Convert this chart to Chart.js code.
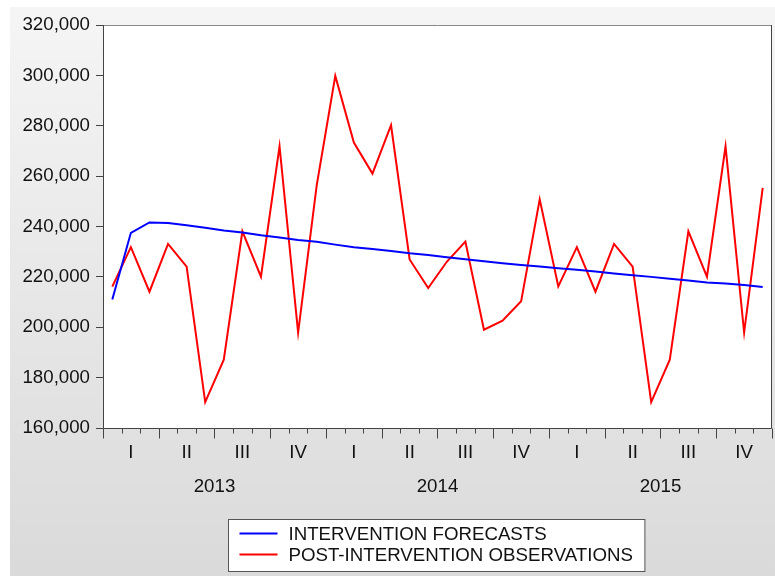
<!DOCTYPE html>
<html>
<head>
<meta charset="utf-8">
<script src="https://cdn.jsdelivr.net/npm/chart.js@4/dist/chart.umd.min.js"></script>
<style>
  html, body { margin: 0; padding: 0; background: #ffffff; }
  #wrap { width: 775px; height: 576px; }
</style>
</head>
<body>
<div id="wrap"><canvas id="c" width="775" height="576"></canvas></div>
<script>
// ---- data ----
const years = ['2013', '2014', '2015'];
const quarters = ['I', 'II', 'III', 'IV'];
const months = [];
years.forEach(y => { for (let m = 1; m <= 12; m++) months.push(y + 'M' + String(m).padStart(2, '0')); });

const forecasts = [
  211000, 237500, 241600, 241400, 240500, 239500, 238400, 237600, 236500, 235600, 234600, 233900,
  232800, 231800, 231100, 230300, 229400, 228700, 227800, 227000, 226200, 225400, 224700, 224100,
  223400, 222800, 222100, 221300, 220600, 220000, 219300, 218600, 217800, 217400, 216800, 216000
];
const observations = [
  216100, 231800, 214100, 233100, 224100, 170300, 187100, 238100, 220100, 271800, 197900, 256300,
  299800, 273300, 261000, 280200, 226900, 215600, 226000, 234000, 199000, 202600, 210300, 250800,
  216200, 231800, 214100, 233100, 224100, 170300, 187100, 238100, 220100, 271800, 197900, 255300
];
const yTicks = [160000, 180000, 200000, 220000, 240000, 260000, 280000, 300000, 320000];
const seriesLabels = ['INTERVENTION FORECASTS', 'POST-INTERVENTION OBSERVATIONS'];
const seriesColors = ['#0000ff', '#ff0000'];

const FONT = "'Liberation Sans', Arial, sans-serif";
const FS = 18.7;

// background plugin
const bgPlugin = {
  id: 'bg',
  beforeDraw(chart) {
    const ctx = chart.ctx;
    ctx.save();
    ctx.fillStyle = '#ffffff';
    ctx.fillRect(0, 0, chart.width, chart.height);
    const g = ctx.createLinearGradient(0, 7, 0, chart.height);
    g.addColorStop(0, '#f5f5f5');
    g.addColorStop(1, '#dadada');
    ctx.fillStyle = g;
    ctx.fillRect(10, 7, chart.width - 10, chart.height - 7);
    const a = chart.chartArea;
    ctx.fillStyle = '#ffffff';
    ctx.fillRect(a.left, a.top, a.right - a.left, a.bottom - a.top);
    ctx.restore();
  },
  afterDraw(chart) {
    const ctx = chart.ctx;
    const a = chart.chartArea;
    const xs = chart.scales.x;
    ctx.save();
    // frame
    ctx.lineWidth = 1;
    ctx.strokeStyle = '#888888';
    ctx.beginPath();
    ctx.moveTo(a.left, a.top + 0.5); ctx.lineTo(a.right, a.top + 0.5);
    ctx.stroke();
    ctx.strokeStyle = '#444444';
    ctx.beginPath();
    ctx.moveTo(Math.round(a.left) + 0.5, a.top);
    ctx.lineTo(Math.round(a.left) + 0.5, Math.round(a.bottom) + 0.5);
    ctx.lineTo(Math.round(a.right) - 0.5, Math.round(a.bottom) + 0.5);
    ctx.lineTo(Math.round(a.right) - 0.5, a.top);
    ctx.stroke();
    // x tick marks at month boundaries, longer at quarter boundaries
    const step = xs.getPixelForValue(1) - xs.getPixelForValue(0);
    const x0 = xs.getPixelForValue(0) - step / 2;
    const yb = Math.round(a.bottom) + 0.5;
    ctx.beginPath();
    for (let i = 0; i <= months.length; i++) {
      const x = Math.round(x0 + i * step) + 0.5;
      const len = (i % 3 === 0) ? 10 : 5;
      ctx.moveTo(x, yb);
      ctx.lineTo(x, yb + len);
    }
    ctx.stroke();

    // legend box
    ctx.font = FS + 'px ' + FONT;
    const textW = Math.max(...seriesLabels.map(s => ctx.measureText(s).width));
    const boxW = 60 + textW + 12;
    const boxH = 52;
    const cx = (a.left + a.right) / 2 - 1.5;
    const bx = Math.round(cx - boxW / 2) + 0.5;
    const by = 519.5;
    ctx.fillStyle = '#ffffff';
    ctx.fillRect(bx, by, boxW, boxH);
    ctx.strokeStyle = '#555555';
    ctx.strokeRect(bx, by, boxW, boxH);
    ctx.textBaseline = 'middle';
    ctx.textAlign = 'left';
    chart.data.datasets.forEach((ds, i) => {
      const ly = by + 14 + i * 21;
      ctx.strokeStyle = ds.borderColor;
      ctx.lineWidth = 2;
      ctx.beginPath();
      ctx.moveTo(bx + 11, ly);
      ctx.lineTo(bx + 49, ly);
      ctx.stroke();
      ctx.fillStyle = '#111111';
      ctx.fillText(ds.label, bx + 60, ly + 1);
    });
    ctx.restore();
  }
};

const noHPad = s => { s.paddingLeft = 0; s.paddingRight = 0; };

new Chart(document.getElementById('c'), {
  type: 'line',
  data: {
    labels: months,
    datasets: [
      { label: seriesLabels[0], data: forecasts, borderColor: seriesColors[0], borderWidth: 2, pointRadius: 0, tension: 0, fill: false },
      { label: seriesLabels[1], data: observations, borderColor: seriesColors[1], borderWidth: 2, pointRadius: 0, tension: 0, fill: false }
    ]
  },
  options: {
    responsive: false,
    animation: false,
    devicePixelRatio: 1,
    layout: { padding: { top: 25, right: 3, left: 0, bottom: 68 } },
    plugins: { legend: { display: false }, tooltip: { enabled: false } },
    scales: {
      x: {
        type: 'category',
        offset: true,
        position: 'bottom',
        weight: 0,
        grid: { display: false },
        border: { display: false },
        ticks: {
          autoSkip: false, maxRotation: 0, minRotation: 0, padding: 6,
          color: '#111111', font: { family: FONT, size: FS },
          callback: (v, i) => (i % 3 === 1) ? quarters[Math.floor(i / 3) % 4] : ''
        },
        afterFit: s => { s.height = 40; noHPad(s); }
      },
      yr: {
        type: 'linear',
        position: 'bottom',
        weight: 1,
        min: -0.5,
        max: months.length - 0.5,
        grid: { display: false },
        border: { display: false },
        afterBuildTicks: s => { s.ticks = years.map((y, i) => ({ value: i * 12 + 5.5 })); },
        ticks: {
          autoSkip: false, maxRotation: 0, minRotation: 0, padding: 0,
          color: '#111111', font: { family: FONT, size: FS },
          callback: (v, i) => years[i]
        },
        afterFit: s => { s.height = 40; noHPad(s); }
      },
      y: {
        type: 'linear',
        min: 160000,
        max: 320000,
        afterBuildTicks: s => { s.ticks = yTicks.map(v => ({ value: v })); },
        grid: { drawOnChartArea: false, tickLength: 7, color: '#444444' },
        border: { display: false },
        ticks: {
          padding: 6, color: '#111111', font: { family: FONT, size: FS },
          callback: v => Number(v).toLocaleString('en-US')
        },
        afterFit: s => { s.width = 103; }
      }
    }
  },
  plugins: [bgPlugin]
});
</script>
</body>
</html>
